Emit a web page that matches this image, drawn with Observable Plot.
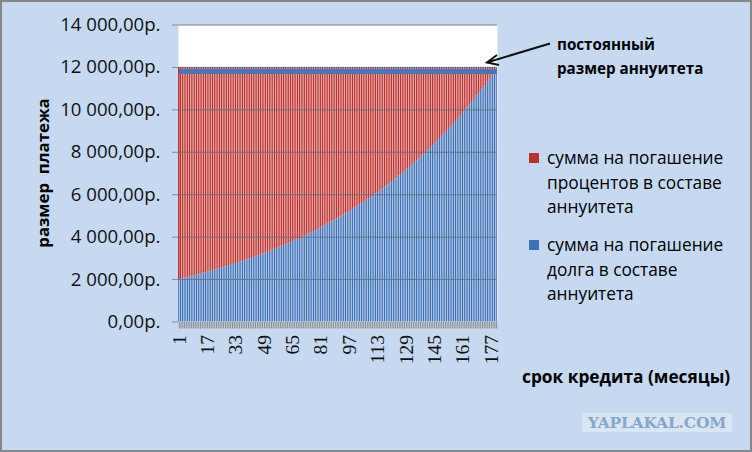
<!DOCTYPE html>
<html>
<head>
<meta charset="utf-8">
<script src="https://cdn.jsdelivr.net/npm/d3@7"></script>
<script src="https://cdn.jsdelivr.net/npm/@observablehq/plot@0.6"></script>
<style>
  html, body { margin: 0; padding: 0; background: #c6d9f1; }
  #wrap { position: relative; width: 752px; height: 452px; overflow: hidden; background: #c6d9f1; font-family: "Open Sans", sans-serif; color: #000; }
  #wrap svg { position: absolute; left: 0; top: 0; }
  .abs { position: absolute; white-space: pre; }
  #border { position: absolute; left: 0; top: 0; width: 752px; height: 452px; box-sizing: border-box; border: 2px solid #878787; pointer-events: none; }
  .leg { position: absolute; left: 529px; font-size: 17.3px; line-height: 24.5px; }
  .leg .sw { position: absolute; left: 0; top: 7px; width: 10px; height: 10px; }
  .leg .tx { margin-left: 18px; }
</style>
</head>
<body>
<div id="wrap"></div>
<script>
// Months of the loan term (1..180)
const months = [
  1,2,3,4,5,6,7,8,9,10,11,12,13,14,15,16,17,18,19,20,
  21,22,23,24,25,26,27,28,29,30,31,32,33,34,35,36,37,38,39,40,
  41,42,43,44,45,46,47,48,49,50,51,52,53,54,55,56,57,58,59,60,
  61,62,63,64,65,66,67,68,69,70,71,72,73,74,75,76,77,78,79,80,
  81,82,83,84,85,86,87,88,89,90,91,92,93,94,95,96,97,98,99,100,
  101,102,103,104,105,106,107,108,109,110,111,112,113,114,115,116,117,118,119,120,
  121,122,123,124,125,126,127,128,129,130,131,132,133,134,135,136,137,138,139,140,
  141,142,143,144,145,146,147,148,149,150,151,152,153,154,155,156,157,158,159,160,
  161,162,163,164,165,166,167,168,169,170,171,172,173,174,175,176,177,178,179,180
];
// Principal part of each annuity payment (blue)
const principal = [
  2002,2022,2042,2063,2083,2104,2125,2146,2168,2190,2212,2234,2256,2279,2301,2324,2348,2371,2395,2419,
  2443,2467,2492,2517,2542,2567,2593,2619,2645,2672,2698,2725,2753,2780,2808,2836,2864,2893,2922,2951,
  2981,3011,3041,3071,3102,3133,3164,3196,3228,3260,3293,3326,3359,3392,3426,3461,3495,3530,3565,3601,
  3637,3673,3710,3747,3785,3823,3861,3899,3938,3978,4018,4058,4098,4139,4181,4223,4265,4307,4350,4394,
  4438,4482,4527,4572,4618,4664,4711,4758,4806,4854,4902,4951,5001,5051,5101,5152,5204,5256,5308,5362,
  5415,5469,5524,5579,5635,5691,5748,5806,5864,5922,5982,6041,6102,6163,6225,6287,6350,6413,6477,6542,
  6607,6674,6740,6808,6876,6945,7014,7084,7155,7227,7299,7372,7445,7520,7595,7671,7748,7825,7904,7983,
  8062,8143,8224,8307,8390,8474,8558,8644,8730,8818,8906,8995,9085,9176,9267,9360,9454,9548,9644,9740,
  9838,9936,10035,10136,10237,10339,10443,10547,10653,10759,10867,10975,11085,11196,11308,11421,11535,11651,11767,11885
];
// Constant annuity payment (top of every bar)
const annuity = 12000;

const yTicks = [0, 2000, 4000, 6000, 8000, 10000, 12000, 14000];
const yTickLabels = ["0,00р.", "2 000,00р.", "4 000,00р.", "6 000,00р.", "8 000,00р.", "10 000,00р.", "12 000,00р.", "14 000,00р."];
const xTickLabels = ["1","17","33","49","65","81","97","113","129","145","161","177"];

const seriesNames = ["сумма на погашение\nпроцентов в составе\nаннуитета", "сумма на погашение\nдолга в составе\nаннуитета"];
const seriesColors = ["#bd302d", "#3d72b8"];

const data = months.map((m, i) => ({month: m, principal: principal[i], total: annuity}));

const chart = Plot.plot({
  width: 752,
  height: 452,
  marginLeft: 178,
  marginRight: 255,
  marginTop: 24.5,
  marginBottom: 130.5,
  style: {background: "transparent", color: "#000", fontFamily: "Open Sans", overflow: "visible"},
  x: {type: "band", domain: months, paddingInner: 0.3, paddingOuter: 0.1, label: null},
  y: {domain: [0, 14000], label: null},
  marks: [
    Plot.frame({fill: "white", stroke: null}),
    Plot.barY(data, {x: "month", y1: 0, y2: "principal", fill: seriesColors[1]}),
    Plot.barY(data, {x: "month", y1: "principal", y2: "total", fill: seriesColors[0]}),
    Plot.ruleY([annuity], {stroke: "#4577bd", strokeWidth: 5, dy: 4}),
    Plot.barY(data.slice(0, 1), {x: "month", y1: "principal", y2: "total", fill: seriesColors[0]}),
    Plot.gridY({ticks: yTicks.slice(1), stroke: "#5f6f80", strokeOpacity: 0.85, strokeWidth: 1}),
    Plot.axisY({
      ticks: yTicks,
      tickFormat: d => yTickLabels[yTicks.indexOf(d)],
      tickSize: 6, tickPadding: 12, stroke: "#8a8a8a",
      fontSize: 18.6, fontFamily: "Open Sans", fill: "#111", label: null
    }),
    Plot.axisX({
      ticks: months,
      tickFormat: d => xTickLabels.includes(String(d)) ? String(d) : "",
      tickSize: 7, tickPadding: 6, tickRotate: -90, stroke: "#8c8c8c",
      fontSize: 19.5, fontFamily: "Liberation Serif", fill: "#111", label: null
    })
  ]
});

const wrap = document.getElementById("wrap");
wrap.appendChild(chart);

function addDiv(cls, css, text) {
  const d = document.createElement("div");
  d.className = cls;
  d.style.cssText = css;
  if (text != null) d.textContent = text;
  wrap.appendChild(d);
  return d;
}

// Legend
const legTops = [146, 233];
seriesNames.forEach((name, i) => {
  const g = addDiv("leg", `top:${legTops[i]}px;`);
  const sw = document.createElement("div");
  sw.className = "sw"; sw.style.background = seriesColors[i];
  g.appendChild(sw);
  const tx = document.createElement("div");
  tx.className = "tx"; tx.style.whiteSpace = "pre"; tx.textContent = name;
  g.appendChild(tx);
});

// Annotation
addDiv("abs", "left:557px;top:33px;font-size:15.2px;font-weight:700;line-height:23.5px;", "постоянный\nразмер аннуитета");
const ns = "http://www.w3.org/2000/svg";
const asv = document.createElementNS(ns, "svg");
asv.setAttribute("width", 752); asv.setAttribute("height", 452);
asv.style.cssText = "position:absolute;left:0;top:0;pointer-events:none;";
asv.innerHTML = '<line x1="550" y1="43.5" x2="487" y2="62.5" stroke="#111" stroke-width="2"/>' +
  '<polyline points="497,55 487,62.5 499,65" fill="none" stroke="#111" stroke-width="2"/>';
wrap.appendChild(asv);

// Axis titles
addDiv("abs", "left:-57px;top:163px;width:200px;height:20px;line-height:20px;text-align:center;font-size:16.8px;font-weight:700;transform:rotate(-90deg);", "размер  платежа");
addDiv("abs", "left:522px;top:366px;font-size:17.3px;font-weight:700;line-height:22px;", "срок кредита (месяцы)");

// Watermark
addDiv("abs", "left:582px;top:413px;width:150px;height:19px;background:#d9e5f3;color:#86a6ca;font-family:'DejaVu Serif';font-weight:700;font-size:15.5px;line-height:19px;text-align:center;letter-spacing:-0.2px;", "YAPLAKAL.COM");

addDiv("", "", null).id = "border";
</script>
</body>
</html>
